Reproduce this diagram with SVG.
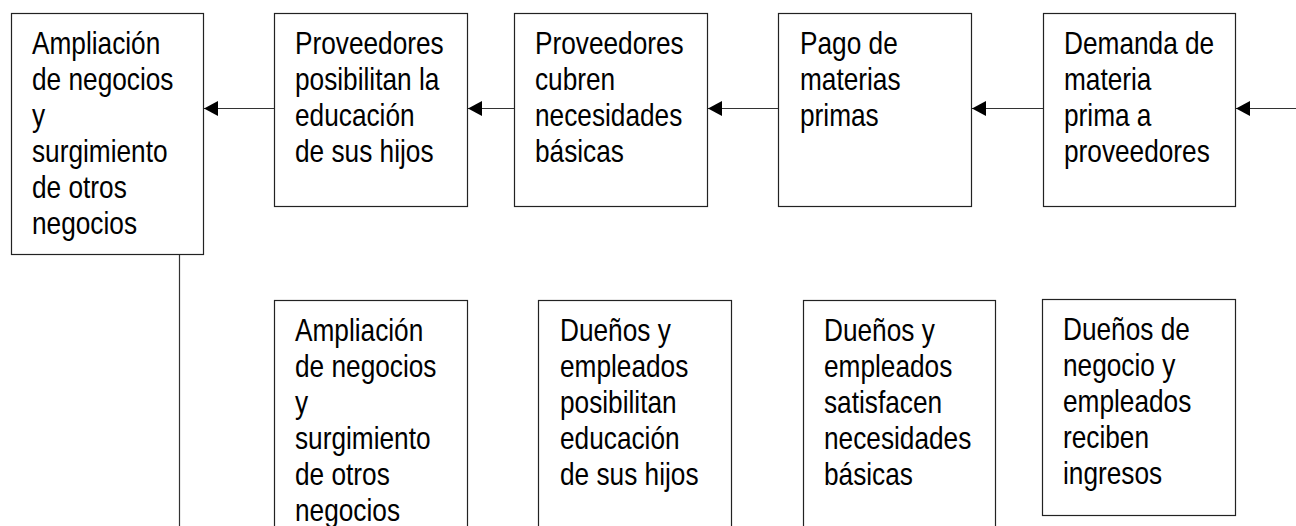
<svg xmlns="http://www.w3.org/2000/svg" width="1296" height="526" viewBox="0 0 1296 526">
<style>
.box{fill:#fff;stroke:#222;stroke-width:1.2}
.t{font-family:"Liberation Sans Narrow","Liberation Sans",Arial,sans-serif;font-size:32px;fill:#000}
.c{stroke:#333;stroke-width:1.2;fill:none}
</style>
<defs>
<marker id="ah" markerUnits="userSpaceOnUse" markerWidth="15" markerHeight="15" refX="14" refY="7.5" orient="auto">
<path d="M0,0 L14,7.5 L0,15 z" fill="#000"/>
</marker>
</defs>
<rect width="1296" height="526" fill="#fff"/>
<g id="connectors">
<line class="c" x1="274" y1="108.5" x2="204" y2="108.5" marker-end="url(#ah)"/>
<line class="c" x1="514" y1="108.5" x2="468" y2="108.5" marker-end="url(#ah)"/>
<line class="c" x1="778" y1="108.5" x2="708" y2="108.5" marker-end="url(#ah)"/>
<line class="c" x1="1043" y1="108.5" x2="972" y2="108.5" marker-end="url(#ah)"/>
<line class="c" x1="1296" y1="108.5" x2="1236" y2="108.5" marker-end="url(#ah)"/>
<line class="c" x1="179.5" y1="254" x2="179.5" y2="526"/>
</g>
<g id="n1">
<rect class="box" x="11.5" y="13.5" width="192" height="241"/>
<text class="t" transform="matrix(0.82 0 0 1 32 0)"><tspan x="0" y="54.5">Ampliación</tspan><tspan x="0" y="90.5">de negocios</tspan><tspan x="0" y="126.5">y</tspan><tspan x="0" y="162.5">surgimiento</tspan><tspan x="0" y="198.5">de otros</tspan><tspan x="0" y="234.5">negocios</tspan></text>
</g>
<g id="n2">
<rect class="box" x="274.5" y="13.5" width="193" height="193"/>
<text class="t" transform="matrix(0.82 0 0 1 295 0)"><tspan x="0" y="54.5">Proveedores</tspan><tspan x="0" y="90.5">posibilitan la</tspan><tspan x="0" y="126.5">educación</tspan><tspan x="0" y="162.5">de sus hijos</tspan></text>
</g>
<g id="n3">
<rect class="box" x="514.5" y="13.5" width="193" height="193"/>
<text class="t" transform="matrix(0.82 0 0 1 535 0)"><tspan x="0" y="54.5">Proveedores</tspan><tspan x="0" y="90.5">cubren</tspan><tspan x="0" y="126.5">necesidades</tspan><tspan x="0" y="162.5">básicas</tspan></text>
</g>
<g id="n4">
<rect class="box" x="778.5" y="13.5" width="193" height="193"/>
<text class="t" transform="matrix(0.82 0 0 1 800 0)"><tspan x="0" y="54.5">Pago de</tspan><tspan x="0" y="90.5">materias</tspan><tspan x="0" y="126.5">primas</tspan></text>
</g>
<g id="n5">
<rect class="box" x="1043.5" y="13.5" width="192" height="193"/>
<text class="t" transform="matrix(0.82 0 0 1 1064 0)"><tspan x="0" y="54.5">Demanda de</tspan><tspan x="0" y="90.5">materia</tspan><tspan x="0" y="126.5">prima a</tspan><tspan x="0" y="162.5">proveedores</tspan></text>
</g>
<g id="n6">
<rect class="box" x="274.5" y="300.5" width="193" height="240"/>
<text class="t" transform="matrix(0.82 0 0 1 295 0)"><tspan x="0" y="341.5">Ampliación</tspan><tspan x="0" y="377.5">de negocios</tspan><tspan x="0" y="413.5">y</tspan><tspan x="0" y="449.5">surgimiento</tspan><tspan x="0" y="485.5">de otros</tspan><tspan x="0" y="521.5">negocios</tspan></text>
</g>
<g id="n7">
<rect class="box" x="538.5" y="300.5" width="193" height="240"/>
<text class="t" transform="matrix(0.82 0 0 1 560 0)"><tspan x="0" y="341.5">Dueños y</tspan><tspan x="0" y="377.5">empleados</tspan><tspan x="0" y="413.5">posibilitan</tspan><tspan x="0" y="449.5">educación</tspan><tspan x="0" y="485.5">de sus hijos</tspan></text>
</g>
<g id="n8">
<rect class="box" x="803.5" y="300.5" width="192" height="240"/>
<text class="t" transform="matrix(0.82 0 0 1 824 0)"><tspan x="0" y="341.5">Dueños y</tspan><tspan x="0" y="377.5">empleados</tspan><tspan x="0" y="413.5">satisfacen</tspan><tspan x="0" y="449.5">necesidades</tspan><tspan x="0" y="485.5">básicas</tspan></text>
</g>
<g id="n9">
<rect class="box" x="1042.5" y="299.5" width="193" height="216"/>
<text class="t" transform="matrix(0.82 0 0 1 1063 0)"><tspan x="0" y="340.5">Dueños de</tspan><tspan x="0" y="376.5">negocio y</tspan><tspan x="0" y="412.5">empleados</tspan><tspan x="0" y="448.5">reciben</tspan><tspan x="0" y="484.5">ingresos</tspan></text>
</g>
</svg>
